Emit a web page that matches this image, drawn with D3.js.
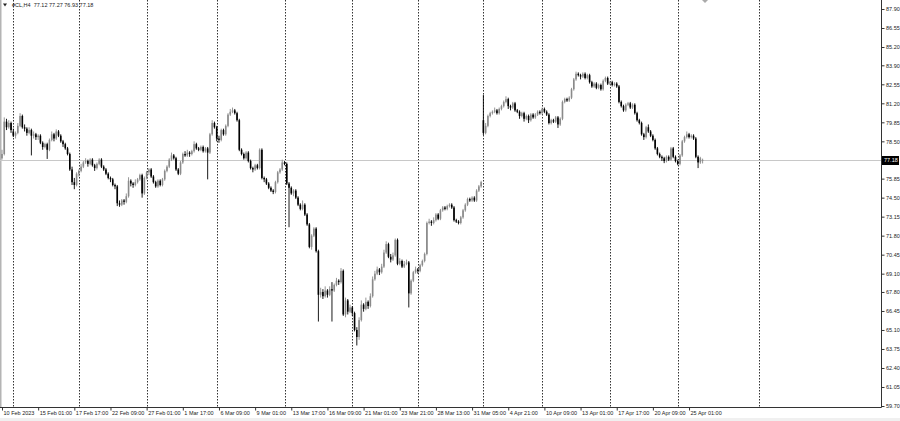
<!DOCTYPE html>
<html>
<head>
<meta charset="utf-8">
<script src="https://cdn.jsdelivr.net/npm/d3@7"></script>
<style>
body { margin: 0; background: #fff; }
svg { display: block; font-family: "Liberation Sans", Arial, sans-serif; }
</style>
</head>
<body>
<script>
// H4 bars of #CL (bar index 0 = 10 Feb 2023)
const opens = [
  77.3,77.6,79.9,79.5,79.8,79.2,78.9,79.1,79.6,80.3,
  79.5,79.4,79.1,79.3,78.9,79.0,78.8,78.9,78.4,78.1,
  78.3,77.9,78.6,79.0,78.7,79.2,78.9,78.5,78.3,78.0,
  77.6,76.5,75.6,75.4,76.2,76.4,76.7,77.0,77.1,76.9,
  77.2,76.8,76.6,76.9,77.2,76.7,76.5,76.2,75.9,75.8,
  75.4,75.3,74.1,74.0,74.3,74.2,74.6,75.7,75.5,75.4,
  75.6,75.8,76.1,74.8,75.9,76.3,76.5,76.0,75.6,75.3,
  75.7,75.4,75.8,76.4,76.7,77.2,77.5,77.3,76.5,76.2,
  77.0,77.6,77.5,77.7,77.6,77.8,78.3,78.0,77.9,78.1,
  77.8,78.0,77.7,79.0,79.8,79.5,78.7,78.6,79.3,79.0,
  79.6,80.4,80.6,80.7,80.5,80.0,77.9,77.6,77.3,77.7,
  77.1,76.6,76.5,76.8,76.6,77.9,75.9,75.8,75.5,75.2,
  75.0,74.9,75.6,76.3,76.5,77.0,76.9,75.5,75.2,74.8,
  75.0,74.5,74.0,73.7,74.0,73.3,72.6,71.0,71.8,72.3,
  70.7,67.6,67.8,67.5,67.9,67.6,68.0,67.9,68.3,68.6,
  68.5,69.3,66.2,67.2,66.4,66.7,66.3,65.1,64.6,65.8,
  66.9,66.6,67.1,66.8,67.5,68.7,69.1,69.4,69.2,69.6,
  70.6,71.2,70.3,70.1,70.4,71.5,69.8,70.0,69.6,69.8,
  69.9,67.7,68.6,69.2,69.4,69.3,69.7,70.0,70.5,72.7,
  72.8,72.7,72.9,73.3,73.0,73.6,73.8,73.7,73.9,74.0,
  73.8,72.9,72.8,72.7,73.1,73.6,74.0,74.4,74.3,74.5,
  74.3,75.0,75.3,80.0,79.1,79.6,80.3,80.5,80.6,80.7,
  80.5,80.8,81.0,81.3,81.5,81.0,80.9,81.2,80.7,80.6,
  80.3,80.5,80.1,80.3,80.0,80.4,80.2,80.4,80.6,80.5,
  80.8,80.6,80.4,79.8,80.0,79.9,80.2,79.7,80.1,81.3,
  81.5,81.4,81.6,82.2,82.9,83.3,83.2,83.1,83.3,83.0,
  83.2,82.7,82.4,82.6,82.3,82.5,82.2,82.8,83.0,82.6,
  82.7,82.5,82.6,82.4,81.3,81.0,80.7,81.1,81.2,80.9,
  81.1,80.5,80.0,79.8,79.0,78.8,79.5,79.2,78.9,78.6,
  78.0,77.6,77.4,77.3,77.1,77.4,77.2,78.0,77.4,77.1,
  76.9,77.5,78.5,78.8,79.0,78.8,78.9,78.7,77.4,77.0,77.12
];
const highs = [
  77.9,80.2,80.1,80.0,79.9,79.4,79.2,79.8,80.5,80.4,
  79.7,79.5,79.5,79.4,79.2,79.1,79.0,79.0,78.5,78.4,
  78.4,78.7,79.2,79.1,79.35,79.3,79.0,78.6,78.4,78.1,
  77.7,76.7,75.9,76.3,76.5,76.9,77.1,77.3,77.2,77.3,
  77.3,76.9,77.0,77.3,77.3,76.8,76.6,76.3,76.0,75.9,
  75.5,75.4,74.3,74.4,74.4,74.8,75.95,75.8,75.6,75.8,
  75.9,76.2,76.2,76.0,76.4,76.6,76.6,76.1,75.7,75.8,
  75.8,75.9,76.5,76.8,77.3,77.7,77.6,77.4,76.6,77.1,
  77.7,77.8,77.9,77.8,77.9,78.5,78.4,78.1,78.2,78.2,
  78.1,78.1,79.1,80.0,79.9,79.6,78.9,79.4,79.4,79.7,
  80.5,80.8,80.9,80.8,80.6,80.1,78.0,77.7,77.8,77.8,
  77.2,76.7,76.9,76.9,78.0,78.0,76.0,75.9,75.6,75.3,
  75.1,75.7,76.4,76.6,77.2,77.1,77.0,75.6,75.3,75.1,
  75.1,74.6,74.1,74.3,74.1,73.4,72.7,71.9,72.4,72.4,
  70.8,68.1,68.0,68.2,68.0,68.2,68.5,68.4,68.8,68.7,
  69.5,69.4,67.4,67.3,66.9,66.8,66.4,65.3,66.0,67.2,
  67.0,67.4,67.2,67.7,68.9,69.3,69.6,69.5,69.8,70.8,
  71.4,71.3,70.5,70.6,71.6,71.6,70.2,70.1,70.0,70.1,
  70.0,68.7,69.3,69.6,69.5,69.8,70.1,70.6,72.8,73.0,
  72.9,73.1,73.4,73.4,73.7,73.9,73.9,74.0,74.1,74.1,
  73.9,73.0,72.9,73.2,73.7,74.1,74.5,74.5,74.6,74.6,
  75.1,75.4,75.7,81.8,79.8,80.4,80.6,80.7,80.9,80.8,
  80.9,81.1,81.4,81.7,81.6,81.1,81.3,81.3,80.8,80.7,
  80.6,80.6,80.4,80.4,80.5,80.5,80.5,80.7,80.7,80.9,
  80.9,80.7,80.5,80.1,80.1,80.3,80.3,80.2,81.4,81.6,
  81.6,81.7,82.3,83.0,83.45,83.4,83.3,83.4,83.4,83.3,
  83.3,82.8,82.7,82.7,82.6,82.6,82.9,83.1,83.1,82.8,
  82.8,82.7,82.7,82.5,81.4,81.1,81.2,81.3,81.3,81.2,
  81.2,80.6,80.1,79.9,79.1,79.6,79.7,79.3,79.0,78.7,
  78.1,77.7,77.5,77.4,77.5,77.5,78.1,78.1,77.5,77.2,
  77.6,78.6,78.9,79.2,79.1,79.0,79.0,78.8,77.5,77.4,77.27
];
const lows = [
  77.2,77.5,79.3,79.4,79.1,78.8,78.7,79.0,79.5,79.4,
  79.2,78.9,79.0,77.5,78.7,78.6,78.6,78.3,77.9,78.0,
  77.25,77.8,78.5,78.5,78.6,78.8,78.4,78.1,77.9,77.5,
  76.4,75.4,75.1,75.3,76.0,76.3,76.6,76.9,76.7,76.8,
  76.7,76.4,76.5,76.8,76.6,76.4,76.1,75.8,75.6,75.3,
  75.1,73.9,73.85,73.9,74.0,74.1,74.5,75.3,75.2,75.3,
  75.5,75.7,74.5,74.7,75.8,76.1,75.9,75.5,75.2,75.2,
  75.3,75.3,75.7,76.3,76.6,77.1,77.2,76.4,76.1,76.1,
  76.9,77.4,77.4,77.4,77.5,77.7,77.9,77.8,77.8,77.7,
  77.7,75.8,77.6,78.9,79.4,78.5,78.4,78.5,78.9,78.9,
  79.5,80.3,80.5,80.4,79.9,77.8,77.5,77.2,77.2,77.0,
  76.5,76.3,76.4,76.5,76.5,75.8,75.6,75.4,75.1,74.9,
  74.75,74.8,75.5,76.2,76.4,76.8,75.4,72.4,74.7,74.6,
  74.4,73.9,73.6,73.6,73.2,72.5,70.9,70.8,71.7,70.6,
  65.7,67.4,67.3,67.4,67.4,67.5,65.7,67.8,68.2,68.3,
  68.4,66.1,66.0,66.2,66.3,66.1,65.0,64.0,64.4,65.7,
  66.4,66.5,66.6,66.7,67.4,68.6,69.0,69.0,69.1,69.5,
  70.5,70.2,69.9,70.0,70.3,69.7,69.7,69.5,69.5,69.7,
  66.7,67.6,68.5,69.1,69.1,69.2,69.6,69.9,70.4,72.6,
  72.5,72.6,72.8,72.9,72.9,73.5,73.6,73.6,73.8,73.7,
  72.8,72.7,72.6,72.6,73.0,73.5,73.9,74.2,74.2,74.2,
  74.2,74.9,75.2,78.95,79.0,79.5,80.2,80.4,80.5,80.4,
  80.4,80.7,80.9,81.2,80.8,80.7,80.8,80.6,80.5,80.1,
  80.2,79.9,80.0,79.8,79.9,80.1,80.1,80.3,80.4,80.4,
  80.5,80.3,79.7,79.7,79.8,79.8,79.45,79.6,80.0,81.2,
  81.3,81.3,81.5,82.1,82.8,83.1,82.9,83.0,82.9,82.9,
  82.6,82.3,82.3,82.2,82.2,82.1,82.1,82.7,82.5,82.5,
  82.4,82.4,82.3,81.2,80.9,80.6,80.6,81.0,80.8,80.8,
  80.4,79.9,79.7,78.9,78.6,78.7,79.1,78.8,78.5,77.9,
  77.5,77.3,77.1,76.95,77.0,77.1,77.1,77.3,77.0,76.8,
  76.8,77.4,78.4,78.7,78.7,78.7,78.6,77.3,76.6,76.9,76.93
];
const closes = [
  77.6,79.9,79.5,79.8,79.3,78.9,79.1,79.6,80.3,79.5,
  79.4,79.1,79.3,78.9,79.0,78.8,78.9,78.4,78.1,78.3,
  77.9,78.6,79.0,78.7,79.2,78.9,78.5,78.3,78.0,77.6,
  76.5,75.6,75.4,76.2,76.4,76.7,77.0,77.1,76.9,77.2,
  76.8,76.6,76.9,77.2,76.7,76.5,76.2,75.9,75.8,75.4,
  75.3,74.1,74.0,74.3,74.2,74.6,75.7,75.5,75.4,75.6,
  75.8,76.1,74.8,75.9,76.3,76.5,76.0,75.6,75.3,75.7,
  75.4,75.8,76.4,76.7,77.2,77.5,77.3,76.5,76.2,77.0,
  77.6,77.5,77.7,77.6,77.8,78.3,78.0,77.9,78.1,77.8,
  78.0,77.7,79.0,79.8,79.5,78.7,78.6,79.3,79.0,79.6,
  80.4,80.6,80.7,80.5,80.0,77.9,77.6,77.3,77.7,77.1,
  76.6,76.5,76.8,76.6,77.9,75.9,75.8,75.5,75.2,75.0,
  74.9,75.6,76.3,76.5,77.0,76.9,75.5,75.2,74.8,75.0,
  74.5,74.0,73.7,74.0,73.3,72.6,71.0,71.8,72.3,70.7,
  67.6,67.8,67.5,67.9,67.6,68.0,67.9,68.3,68.6,68.5,
  69.3,66.2,67.2,66.4,66.7,66.3,65.1,64.6,65.8,66.9,
  66.6,67.1,66.8,67.5,68.7,69.1,69.4,69.2,69.6,70.6,
  71.2,70.3,70.1,70.4,71.5,69.8,70.0,69.6,69.8,69.9,
  67.7,68.6,69.2,69.4,69.3,69.7,70.0,70.5,72.7,72.8,
  72.7,72.9,73.3,73.0,73.6,73.8,73.7,73.9,74.0,73.8,
  72.9,72.8,72.7,73.1,73.6,74.0,74.4,74.3,74.5,74.3,
  75.0,75.3,75.6,79.1,79.6,80.3,80.5,80.6,80.7,80.5,
  80.8,81.0,81.3,81.5,81.0,80.9,81.2,80.7,80.6,80.3,
  80.5,80.1,80.3,80.0,80.4,80.2,80.4,80.6,80.5,80.8,
  80.6,80.4,79.8,80.0,79.9,80.2,79.7,80.1,81.3,81.5,
  81.4,81.6,82.2,82.9,83.3,83.2,83.1,83.3,83.0,83.2,
  82.7,82.4,82.6,82.3,82.5,82.2,82.8,83.0,82.6,82.7,
  82.5,82.6,82.4,81.3,81.0,80.7,81.1,81.2,80.9,81.1,
  80.5,80.0,79.8,79.0,78.8,79.5,79.2,78.9,78.6,78.0,
  77.6,77.4,77.3,77.1,77.4,77.2,78.0,77.4,77.1,76.9,
  77.5,78.5,78.8,79.0,78.8,78.9,78.7,77.4,77.0,77.3,77.18
];

// price axis labels (the one under the 77.18 marker is hidden)
const priceTicks = [87.90, 86.55, 85.20, 83.90, 82.55, 81.20, 79.85, 78.50, 75.85, 74.50,
  73.15, 71.80, 70.45, 69.10, 67.80, 66.45, 65.10, 63.75, 62.40, 61.05, 59.70];
const lastPrice = 77.18;

// time axis: a label every 16 bars
const timeTickBars = [0, 16, 32, 48, 64, 80, 96, 112, 128, 144, 160, 176, 192, 208, 224, 240, 256, 272, 288, 304];
const timeTickLabels = ['10 Feb 2023', '15 Feb 01:00', '17 Feb 17:00', '22 Feb 09:00', '27 Feb 01:00',
  '1 Mar 17:00', '6 Mar 09:00', '9 Mar 01:00', '13 Mar 17:00', '16 Mar 09:00', '21 Mar 01:00',
  '23 Mar 21:00', '28 Mar 13:00', '31 Mar 05:00', '4 Apr 21:00', '10 Apr 09:00', '13 Apr 01:00',
  '17 Apr 17:00', '20 Apr 09:00', '25 Apr 01:00'];

// weekly period separators (bar index of first bar in the week)
const separatorBars = [5, 34, 64, 95, 125, 155, 184, 213, 239, 269, 299, 335];

const W = 900, H = 421;
const axisX = 881, axisY = 407;

const x = d3.scaleLinear().domain([0, closes.length - 1]).range([2, 702.6]);
const y = d3.scaleLinear().domain([59.70, 87.90]).range([406, 9]);

const svg = d3.select('body').append('svg')
  .attr('width', W)
  .attr('height', H);

svg.append('rect').attr('width', W).attr('height', H).attr('fill', '#fff');
// window chrome below the time scale
svg.append('rect').attr('x', 0).attr('y', 418).attr('width', W).attr('height', H - 418).attr('fill', '#f0f0f0');
svg.append('rect').attr('x', 0).attr('y', 0).attr('width', 1.5).attr('height', axisY).attr('fill', '#b4b4b4');

// separators
svg.append('g').selectAll('line')
  .data(separatorBars)
  .enter().append('line')
  .attr('x1', d => Math.round(x(d)) + 0.5)
  .attr('x2', d => Math.round(x(d)) + 0.5)
  .attr('y1', 0)
  .attr('y2', axisY)
  .attr('stroke', '#333')
  .attr('stroke-width', 1)
  .attr('stroke-dasharray', '1.5,1.5');

// last price line
const yLast = Math.round(y(lastPrice)) + 0.5;
svg.append('line')
  .attr('x1', 0).attr('x2', axisX)
  .attr('y1', yLast).attr('y2', yLast)
  .attr('stroke', '#c8c8c8');

// candles
const bars = d3.range(closes.length).map(i => ({
  i, o: opens[i], h: highs[i], l: lows[i], c: closes[i]
}));
const colorOf = d => d.c >= d.o ? '#8a8a8a' : '#000';

const candle = svg.append('g').selectAll('g')
  .data(bars)
  .enter().append('g');

candle.append('line')
  .attr('x1', d => x(d.i))
  .attr('x2', d => x(d.i))
  .attr('y1', d => y(d.h))
  .attr('y2', d => y(d.l))
  .attr('stroke', colorOf)
  .attr('stroke-width', 0.9);

candle.append('rect')
  .attr('x', d => x(d.i) - 0.8)
  .attr('width', 1.6)
  .attr('y', d => y(Math.max(d.o, d.c)))
  .attr('height', d => Math.max(0.7, Math.abs(y(d.o) - y(d.c))))
  .attr('fill', colorOf);

// frame
svg.append('line').attr('x1', axisX + 0.5).attr('x2', axisX + 0.5).attr('y1', 0).attr('y2', axisY + 0.5).attr('stroke', '#333');
svg.append('line').attr('x1', 0).attr('x2', axisX + 0.5).attr('y1', axisY + 0.5).attr('y2', axisY + 0.5).attr('stroke', '#333');

// price scale
const yAxis = d3.axisRight(y)
  .tickValues(priceTicks)
  .tickFormat(d3.format('.2f'))
  .tickSize(3)
  .tickPadding(1.5);

svg.append('g')
  .attr('transform', `translate(${axisX + 0.5},0)`)
  .call(yAxis)
  .call(g => g.select('.domain').remove())
  .call(g => g.selectAll('line').attr('stroke', '#333'))
  .call(g => g.selectAll('text').attr('font-size', 5.5).attr('fill', '#222').attr('font-family', '"Liberation Sans", Arial, sans-serif'));

// time scale
const xAxis = d3.axisBottom(x)
  .tickValues(timeTickBars)
  .tickFormat((d, i) => timeTickLabels[i])
  .tickSize(3)
  .tickPadding(0.5);

svg.append('g')
  .attr('transform', `translate(0,${axisY + 0.5})`)
  .call(xAxis)
  .call(g => g.select('.domain').remove())
  .call(g => g.selectAll('line').attr('stroke', '#333'))
  .call(g => g.selectAll('text')
    .attr('text-anchor', 'start')
    .attr('x', 1)
    .attr('font-size', 5.5)
    .attr('fill', '#222')
    .attr('font-family', '"Liberation Sans", Arial, sans-serif'));

// last price marker
svg.append('rect')
  .attr('x', axisX + 1)
  .attr('y', yLast - 4.5)
  .attr('width', W - axisX - 2)
  .attr('height', 9)
  .attr('fill', '#000');
svg.append('text')
  .attr('x', axisX + 3)
  .attr('y', yLast)
  .attr('dy', '0.35em')
  .attr('font-size', 5.5)
  .attr('fill', '#fff')
  .text(d3.format('.2f')(lastPrice));

// title
svg.append('path')
  .attr('d', 'M3,3.5L7,3.5L5,6.5Z')
  .attr('fill', '#222');
svg.append('text')
  .attr('x', 12)
  .attr('y', 7)
  .attr('font-size', 5.5)
  .attr('fill', '#222')
  .attr('xml:space', 'preserve')
  .text(`#CL,H4  ${opens[opens.length - 1]} ${highs[highs.length - 1]} ${lows[lows.length - 1]} ${closes[closes.length - 1]}`);

// chart shift marker
svg.append('path')
  .attr('d', 'M702,0L708,0L705,3Z')
  .attr('fill', '#aaa');
</script>
</body>
</html>
